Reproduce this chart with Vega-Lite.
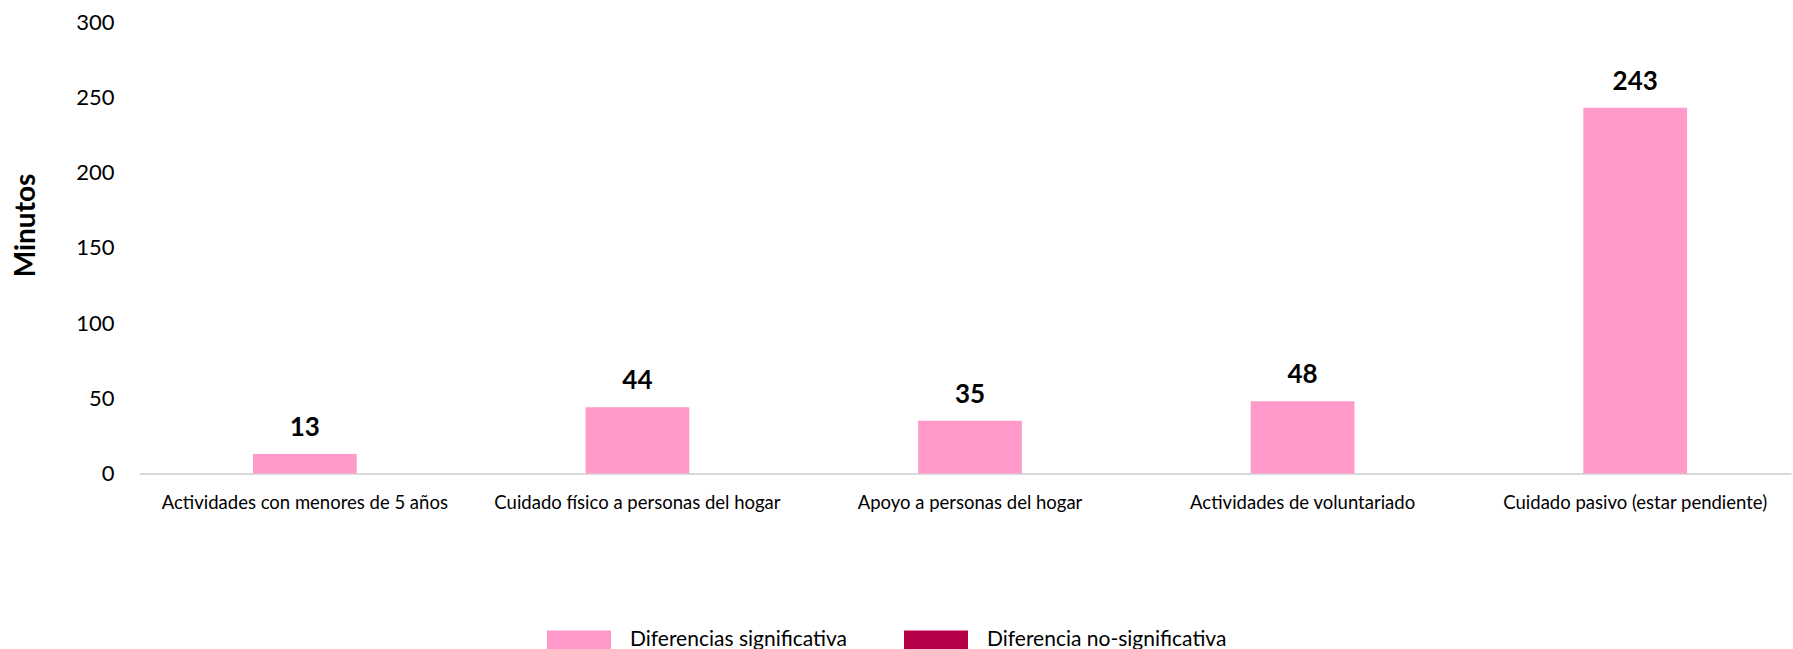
{
  "$schema": "https://vega.github.io/schema/vega-lite/v6.json",
  "autosize": {"type": "none"},
  "width": 1652,
  "height": 451.5,
  "padding": {"left": 139, "top": 22, "right": 2, "bottom": 175.5},
  "background": "white",
  "config": {"view": {"stroke": null}, "font": "Lato"},
  "data": {
    "values": [
      {"cat": "Actividades con menores de 5 años", "min": 13, "tipo": "Diferencias significativa"},
      {"cat": "Cuidado físico a personas del hogar", "min": 44, "tipo": "Diferencias significativa"},
      {"cat": "Apoyo a personas del hogar", "min": 35, "tipo": "Diferencias significativa"},
      {"cat": "Actividades de voluntariado", "min": 48, "tipo": "Diferencias significativa"},
      {"cat": "Cuidado pasivo (estar pendiente)", "min": 243, "tipo": "Diferencias significativa"}
    ]
  },
  "encoding": {
    "x": {
      "field": "cat", "type": "nominal", "sort": null,
      "scale": {"paddingInner": 0.688, "paddingOuter": 0.3275, "align": 0.523},
      "axis": {
        "title": null, "labelAngle": 0, "ticks": false, "labelPadding": 20,
        "labelFontSize": 18.5, "labelColor": "#000000", "labelFont": "Lato",
        "domainColor": "#D9D9D9", "domainWidth": 2, "labelLimit": 400
      }
    },
    "y": {
      "field": "min", "type": "quantitative",
      "scale": {"domain": [0, 300], "nice": false},
      "axis": {
        "title": "Minutos", "titleFontSize": 28, "titleFontWeight": "bold", "titleColor": "#000000",
        "titleFont": "Lato", "titleX": -113, "titleY": 203, "titleAngle": 270, "titleBaseline": "middle", "titleAlign": "center",
        "values": [0, 50, 100, 150, 200, 250, 300],
        "labelFontSize": 22, "labelColor": "#000000", "labelPadding": 25, "labelFont": "Lato",
        "ticks": false, "domain": false, "grid": false
      }
    }
  },
  "layer": [
    {
      "mark": {"type": "bar"},
      "encoding": {
        "color": {
          "field": "tipo", "type": "nominal",
          "scale": {"domain": ["Diferencias significativa", "Diferencia no-significativa"], "range": ["#FF9ACB", "#B8004A"]},
          "legend": {
            "title": null, "orient": "none", "direction": "horizontal",
            "legendX": 408, "legendY": 586,
            "symbolType": "M-1,-0.3H1V0.3H-1Z", "symbolSize": 4096,
            "symbolStrokeWidth": 0, "symbolOpacity": 1,
            "labelFontSize": 21, "labelFont": "Lato", "labelColor": "#000000",
            "labelOffset": 19, "columnPadding": 56, "labelLimit": 400
          }
        }
      }
    },
    {
      "mark": {"type": "text", "baseline": "alphabetic", "dy": -18, "fontSize": 26, "fontWeight": "bold", "color": "#000000", "font": "Lato"},
      "encoding": {"text": {"field": "min", "type": "quantitative"}}
    }
  ]
}
